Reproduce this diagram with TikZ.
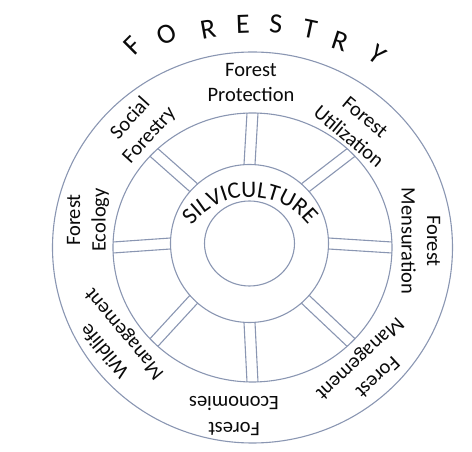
\documentclass[tikz,border=0pt]{standalone}
\usepackage{fontspec}
\setmainfont{Carlito}
\usepackage{tikz}
\usetikzlibrary{calc,decorations.text}
\definecolor{rimblue}{RGB}{138,150,178}
\definecolor{inkgrey}{RGB}{10,10,10}

\begin{document}
\begin{tikzpicture}[x=1pt,y=1pt,
    rim/.style={draw=rimblue, line width=1.1pt},
    branch/.style={font=\fontsize{20.5}{25.5}\selectfont, align=center, inner sep=0pt, text=inkgrey},
    letter/.style={font=\fontsize{28}{28}\selectfont, inner sep=0pt, text=inkgrey}]
    \useasboundingbox (-252.5,-204.5) rectangle (219.5,247.5);
    \coordinate (centre) at (0,0);
    \coordinate (hub) at (-3,4);
    % spokes
    \foreach \a in {0,45,...,315}
        \foreach \s in {-5.5,5.5}
            \draw[rim] ($(hub)+(\a:79)+(\a+90:\s)$) -- ($({139.5*cos(\a)},{134.5*sin(\a)})+(\a+90:\s)$);
    % rings
    \draw[rim] (centre) ellipse[x radius=200, y radius=195.5];
    \draw[rim] (centre) ellipse[x radius=139.5, y radius=134.5];
    \draw[rim] (hub) circle[radius=79];
    \draw[rim] (hub) ellipse[x radius=45, y radius=42.5];
    % title
    \foreach \ch/\x/\y/\rot [count=\i] in {F/-119.5/201.5/45, O/-85.5/213.5/27, R/-44.5/218.5/10, E/-9.5/223.5/2,
            S/23.5/223.5/-4, T/57.5/218.5/-12, R/87.5/206.5/-18, Y/124.5/192.5/-38}
        \node[letter, rotate=\rot] (title\i) at (\x,\y) {\ch};
    % hub text
    \path[decorate, decoration={text along path, text align=center, text color=inkgrey,
        text={|\fontsize{23.5}{23.5}\selectfont|SILVICULTURE}}]
        ($(-2.5,-23.5)+(180:74)$) arc[start angle=180, end angle=0, radius=74];
    % branches
    \node[branch] (protection) at (-1.5,165) {Forest\\Protection};
    \node[branch, rotate=48] (social) at (-112.5,120.5) {Social\\Forestry};
    \node[branch, rotate=-40] (utilization) at (104.5,120.5) {Forest\\Utilization};
    \node[branch, rotate=-90] (mensuration) at (168.5,6.5) {Forest\\Mensuration};
    \node[branch, rotate=-137] (management) at (115.5,-119.5) {Forest\\Management};
    \node[branch, rotate=180] (economies) at (-18.5,-168.5) {Forest\\Economies};
    \node[branch, rotate=130] (wildlife) at (-137.5,-94.5) {Wildlife\\Management};
    \node[branch, rotate=90] (ecology) at (-164.5,27.5) {Forest\\Ecology};
\end{tikzpicture}
\end{document}
